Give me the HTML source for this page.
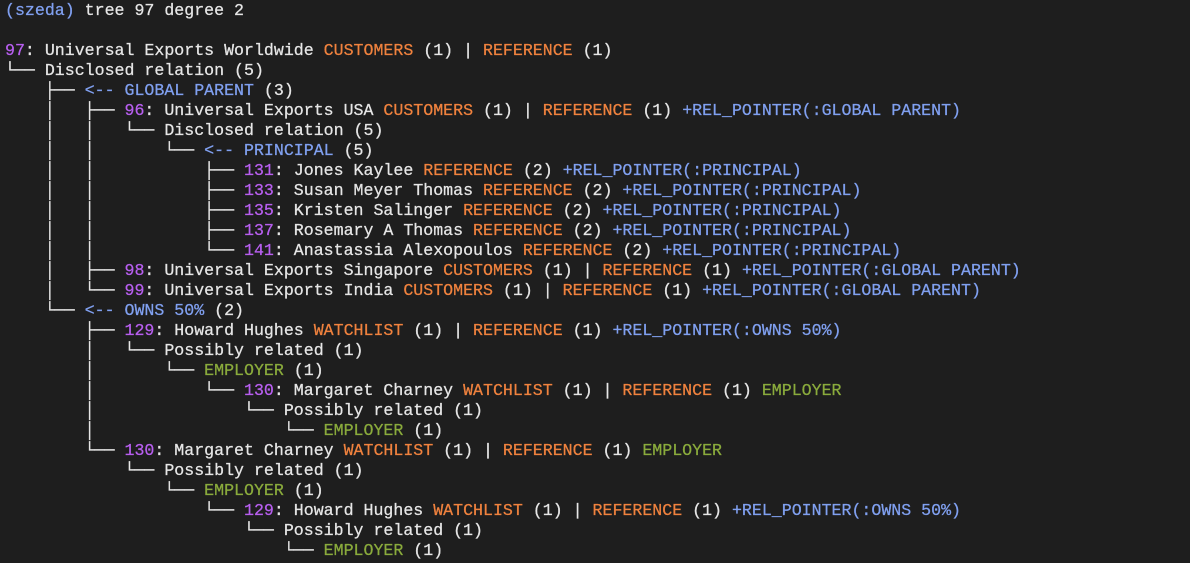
<!DOCTYPE html>
<html><head><meta charset="utf-8"><style>
html,body{margin:0;padding:0;background:#1e1e1e;width:1190px;height:563px;overflow:hidden}
pre{margin:0;padding:1px 0 0 5px;font-family:"Liberation Mono","DejaVu Sans Mono",monospace;font-size:16.6px;line-height:20px;color:#e6e6e6;white-space:pre;-webkit-text-stroke:0.25px currentColor}
.p{color:#b85ff0}.o{color:#f0823e}.b{color:#80a0f0}.g{color:#8aab3c}
</style></head><body><pre><span class="b">(szeda)</span> tree 97 degree 2

<span class="p">97</span>: Universal Exports Worldwide <span class="o">CUSTOMERS</span> (1) | <span class="o">REFERENCE</span> (1)
└── Disclosed relation (5)
    ├── <span class="b">&lt;-- GLOBAL PARENT</span> (3)
    │   ├── <span class="p">96</span>: Universal Exports USA <span class="o">CUSTOMERS</span> (1) | <span class="o">REFERENCE</span> (1) <span class="b">+REL_POINTER(:GLOBAL PARENT)</span>
    │   │   └── Disclosed relation (5)
    │   │       └── <span class="b">&lt;-- PRINCIPAL</span> (5)
    │   │           ├── <span class="p">131</span>: Jones Kaylee <span class="o">REFERENCE</span> (2) <span class="b">+REL_POINTER(:PRINCIPAL)</span>
    │   │           ├── <span class="p">133</span>: Susan Meyer Thomas <span class="o">REFERENCE</span> (2) <span class="b">+REL_POINTER(:PRINCIPAL)</span>
    │   │           ├── <span class="p">135</span>: Kristen Salinger <span class="o">REFERENCE</span> (2) <span class="b">+REL_POINTER(:PRINCIPAL)</span>
    │   │           ├── <span class="p">137</span>: Rosemary A Thomas <span class="o">REFERENCE</span> (2) <span class="b">+REL_POINTER(:PRINCIPAL)</span>
    │   │           └── <span class="p">141</span>: Anastassia Alexopoulos <span class="o">REFERENCE</span> (2) <span class="b">+REL_POINTER(:PRINCIPAL)</span>
    │   ├── <span class="p">98</span>: Universal Exports Singapore <span class="o">CUSTOMERS</span> (1) | <span class="o">REFERENCE</span> (1) <span class="b">+REL_POINTER(:GLOBAL PARENT)</span>
    │   └── <span class="p">99</span>: Universal Exports India <span class="o">CUSTOMERS</span> (1) | <span class="o">REFERENCE</span> (1) <span class="b">+REL_POINTER(:GLOBAL PARENT)</span>
    └── <span class="b">&lt;-- OWNS 50%</span> (2)
        ├── <span class="p">129</span>: Howard Hughes <span class="o">WATCHLIST</span> (1) | <span class="o">REFERENCE</span> (1) <span class="b">+REL_POINTER(:OWNS 50%)</span>
        │   └── Possibly related (1)
        │       └── <span class="g">EMPLOYER</span> (1)
        │           └── <span class="p">130</span>: Margaret Charney <span class="o">WATCHLIST</span> (1) | <span class="o">REFERENCE</span> (1) <span class="g">EMPLOYER</span>
        │               └── Possibly related (1)
        │                   └── <span class="g">EMPLOYER</span> (1)
        └── <span class="p">130</span>: Margaret Charney <span class="o">WATCHLIST</span> (1) | <span class="o">REFERENCE</span> (1) <span class="g">EMPLOYER</span>
            └── Possibly related (1)
                └── <span class="g">EMPLOYER</span> (1)
                    └── <span class="p">129</span>: Howard Hughes <span class="o">WATCHLIST</span> (1) | <span class="o">REFERENCE</span> (1) <span class="b">+REL_POINTER(:OWNS 50%)</span>
                        └── Possibly related (1)
                            └── <span class="g">EMPLOYER</span> (1)</pre></body></html>
